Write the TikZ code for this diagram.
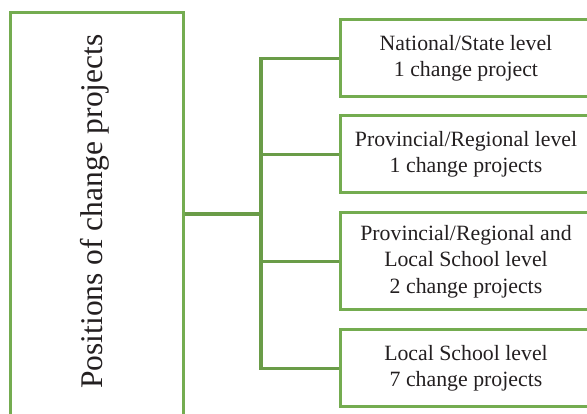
\documentclass[tikz,border=0pt]{standalone}
\usepackage{fontspec}
\setmainfont{Liberation Serif}
\definecolor{boxgreen}{RGB}{116,172,80}
\definecolor{linegreen}{RGB}{106,156,72}
\definecolor{txt}{RGB}{35,31,32}
\begin{document}
\begin{tikzpicture}[x=1pt,y=1pt,
  lvlbox/.style={draw=boxgreen,line width=3pt,minimum width=252pt,minimum height=77pt,
    align=center,inner sep=0pt,text=txt,font=\fontsize{21.8}{26.5}\selectfont},
  conn/.style={draw=linegreen,line width=3.8pt}]
\useasboundingbox (0,0) rectangle (587,414);
\clip (0,0) rectangle (587,414);
\node[draw=boxgreen,line width=3pt,minimum width=173pt,minimum height=440pt,inner sep=0pt] (lb) at (96.5,181) {};
\node[rotate=90,text=txt,font=\fontsize{31.5}{36}\selectfont] (lt) at (95,202.5) {Positions of change projects};
\node[lvlbox] (b1) at (466,355.5) {National/State level\\1 change project};
\node[lvlbox] (b2) at (466,259.5) {Provincial/Regional level\\1 change projects};
\node[lvlbox,minimum height=97pt] (b3) at (466,152.5) {Provincial/Regional and\\Local School level\\2 change projects};
\node[lvlbox] (b4) at (466,45.5) {Local School level\\7 change projects};
\coordinate (j) at (261,200);
\draw[conn] (b1.west) -| (j) |- (b4.west);
\draw[conn] (j |- b2.west) -- (b2.west);
\draw[conn] (j |- b3.west) -- (b3.west);
\draw[conn] (lb.east |- j) -- (j);
\end{tikzpicture}
\end{document}
